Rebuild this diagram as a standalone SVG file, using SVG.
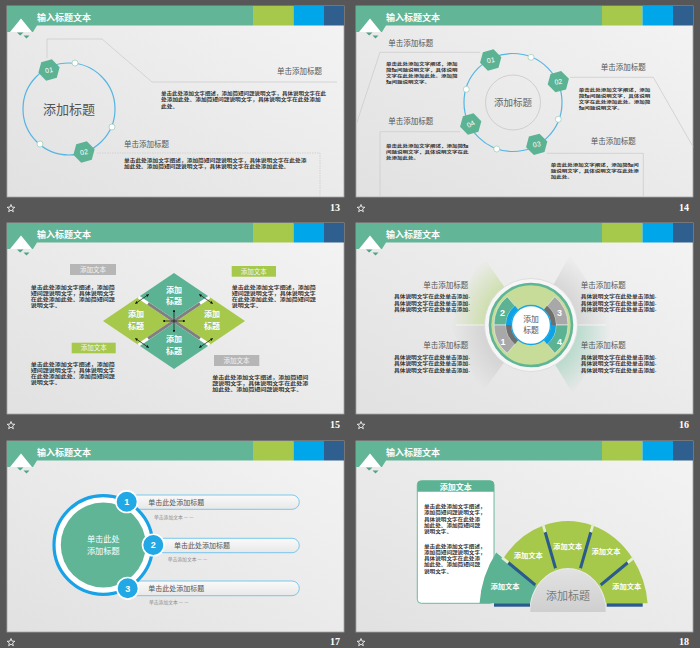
<svg xmlns="http://www.w3.org/2000/svg" width="700" height="648" viewBox="0 0 700 648">
  <style>
    .cn { font-family: "Noto Sans CJK SC", "Noto Sans", sans-serif; }
    .p { font-family: "Noto Sans CJK SC", sans-serif; fill: #333; font-weight: bold; }
    .hd { font-family: "Noto Sans CJK SC", sans-serif; font-size: 7.5px; fill: #555; }
    .ttl { font-family: "Noto Sans CJK SC", sans-serif; font-size: 9px; font-weight: bold; fill: #fff; }
    .pg { font-family: "Liberation Serif", serif; font-weight: bold; font-size: 10px; fill: #fff; text-anchor: end; }
    .ln { fill: none; stroke: #cdcdcd; stroke-width: 0.8; }
    .dot { fill: #fff; stroke: #9fd1be; stroke-width: 0.8; }
    .hexnum { font-family: "Liberation Sans", sans-serif; font-size: 7px; fill: #fff; text-anchor: middle; }
    .wl { font-family: "Noto Sans CJK SC", sans-serif; font-weight: bold; fill: #fff; text-anchor: middle; }
    .star { fill: none; stroke: #fff; stroke-width: 0.8; }
  </style>
  <defs>
    <linearGradient id="bg" x1="1" y1="0" x2="0" y2="1">
      <stop offset="0" stop-color="#f4f4f4"/>
      <stop offset="1" stop-color="#e1e1e1"/>
    </linearGradient>
    <linearGradient id="pill" x1="0" y1="0" x2="0" y2="1">
      <stop offset="0" stop-color="#fafafa"/>
      <stop offset="1" stop-color="#e8e8e8"/>
    </linearGradient>
    <linearGradient id="grayDome" x1="0" y1="0" x2="0" y2="1">
      <stop offset="0" stop-color="#e2e2e2"/>
      <stop offset="1" stop-color="#cfcfcf"/>
    </linearGradient>
    <radialGradient id="rayG" gradientUnits="userSpaceOnUse" cx="175" cy="102" r="80">
      <stop offset="0.45" stop-color="#b7d57c" stop-opacity="0.7"/>
      <stop offset="1" stop-color="#b7d57c" stop-opacity="0"/>
    </radialGradient>
    <radialGradient id="rayT" gradientUnits="userSpaceOnUse" cx="175" cy="102" r="80">
      <stop offset="0.45" stop-color="#8fcdb3" stop-opacity="0.7"/>
      <stop offset="1" stop-color="#8fcdb3" stop-opacity="0"/>
    </radialGradient>
    <radialGradient id="rayK" gradientUnits="userSpaceOnUse" cx="175" cy="102" r="80">
      <stop offset="0.45" stop-color="#bcbcbc" stop-opacity="0.6"/>
      <stop offset="1" stop-color="#bcbcbc" stop-opacity="0"/>
    </radialGradient>
    <marker id="ah" viewBox="0 0 6 6" refX="5" refY="3" markerWidth="4" markerHeight="4" orient="auto-start-reverse">
      <path d="M0,0 L6,3 L0,6 Z" fill="#111"/>
    </marker>
    <clipPath id="fanClip">
      <rect x="-120" y="-120" width="240" height="111.3"/>
    </clipPath>
    <polygon id="hex" points="0,-11 9.53,-5.5 9.53,5.5 0,11 -9.53,5.5 -9.53,-5.5" fill="#5cb394"/>
    <polygon id="star" class="star" points="0,-4 1,-1.38 3.8,-1.24 1.62,0.53 2.35,3.24 0,1.7 -2.35,3.24 -1.62,0.53 -3.8,-1.24 -1,-1.38"/>
    <!-- slide frame: background and title bar -->
    <g id="frame">
      <rect x="0" y="0" width="337" height="191" fill="url(#bg)" stroke="#a5a5a5" stroke-width="0.8"/>
      <path d="M0,0 H246 V19.5 H30 L26,26 H0 Z" fill="#63b597"/>
      <polygon points="3,26 14,12.5 25,26" fill="#fff"/>
      <rect x="246" y="0" width="40.5" height="19.5" fill="#a6c94b"/>
      <rect x="286.5" y="0" width="30.5" height="19.5" fill="#00a6ea"/>
      <rect x="317" y="0" width="20" height="19.5" fill="#2f5f8e"/>
      <polygon points="10,26.5 16.5,26.5 13.2,29.5" fill="#4fa386"/>
      <polygon points="16.5,29.5 22.5,29.5 19.5,32.5" fill="#4fa386"/>
      <text x="30" y="14.5" class="ttl">输入标题文本</text>
    </g>
  </defs>

  <rect x="0" y="0" width="700" height="648" fill="#575757"/>

  <!-- page numbers and slide icons -->
  <g id="footers">
    <use href="#star" x="11" y="208.5"/>
    <use href="#star" x="361" y="208.5"/>
    <use href="#star" x="11" y="425.5"/>
    <use href="#star" x="361" y="425.5"/>
    <use href="#star" x="11" y="642.5"/>
    <use href="#star" x="361" y="642.5"/>
    <text x="340" y="211" class="pg">13</text>
    <text x="689" y="211" class="pg">14</text>
    <text x="340" y="428" class="pg">15</text>
    <text x="689" y="428" class="pg">16</text>
    <text x="340" y="645" class="pg">17</text>
    <text x="689" y="645" class="pg">18</text>
  </g>

  <!-- slide 13 -->
  <g id="slide13" transform="translate(7,6)">
    <use href="#frame"/>
    <g id="s13-lines">
      <polyline class="ln" points="40,52 40,33 95,33 145,76 330,76"/>
      <polyline class="ln" points="90,147 313,147 313,191" stroke-dasharray="1.5 1"/>
    </g>
    <circle cx="62" cy="103" r="46" fill="none" stroke="#55b5e4" stroke-width="1.2"/>
    <circle class="dot" cx="68" cy="57" r="3"/>
    <circle class="dot" cx="105" cy="121" r="3"/>
    <circle class="dot" cx="33" cy="138" r="3"/>
    <g id="s13-n01" transform="translate(42,64) rotate(15)">
      <use href="#hex"/>
      <text y="2.5" class="hexnum" transform="rotate(-25)">01</text>
    </g>
    <g id="s13-n02" transform="translate(77,146) rotate(15)">
      <use href="#hex"/>
      <text y="2.5" class="hexnum" transform="rotate(-25)">02</text>
    </g>
    <text x="62" y="108" class="cn" font-size="13" fill="#555" text-anchor="middle">添加标题</text>
    <text x="315" y="67.5" class="hd" text-anchor="end">单击添加标题</text>
    <g class="p" font-size="4.4">
      <text x="154" y="89" textLength="165" lengthAdjust="spacingAndGlyphs">单击此处添加文字阐述，添加简短问题说明文字，具体说明文字在此</text>
      <text x="154" y="95.4" textLength="159.6" lengthAdjust="spacingAndGlyphs">处添加此处。添加简短问题说明文字，具体说明文字在此处添加</text>
      <text x="154" y="101.8" textLength="17.1" lengthAdjust="spacingAndGlyphs">此处。</text>
    </g>
    <text x="117" y="141" class="hd">单击添加标题</text>
    <g class="p" font-size="4.4">
      <text x="117" y="156" textLength="182.4" lengthAdjust="spacingAndGlyphs">单击此处添加文字阐述，添加简短问题说明文字，具体说明文字在此处添</text>
      <text x="117" y="162.4" textLength="165.3" lengthAdjust="spacingAndGlyphs">加此处。添加简短问题说明文字，具体说明文字在此处添加此处。</text>
    </g>
  </g>

  <!-- slide 14 -->
  <g id="slide14" transform="translate(356,6)">
    <use href="#frame"/>
    <g id="s14-lines">
      <polyline class="ln" points="124,46.3 24,46.3 0.7,117"/>
      <polyline class="ln" points="214,71.3 297.3,71.3 337,140.7"/>
      <polyline class="ln" points="104,125.7 24,125.7 24,190.7"/>
      <polyline class="ln" points="190.7,147.3 287.3,147.3 287.3,190.7"/>
    </g>
    <circle cx="157" cy="96.5" r="49" fill="none" stroke="#55b5e4" stroke-width="1.2"/>
    <circle cx="157" cy="96.5" r="27.5" fill="none" stroke="#cfcfcf" stroke-width="1"/>
    <text x="157" y="100" class="cn" font-size="9.5" fill="#666" text-anchor="middle">添加标题</text>
    <circle class="dot" cx="175" cy="51.3" r="3"/>
    <circle class="dot" cx="110.3" cy="83.3" r="3"/>
    <circle class="dot" cx="202.3" cy="113.3" r="3"/>
    <circle class="dot" cx="140.7" cy="143" r="3"/>
    <g id="s14-n01" transform="translate(134.7,54) rotate(15)">
      <use href="#hex"/><text y="2.5" class="hexnum" transform="rotate(-25)">01</text>
    </g>
    <g id="s14-n02" transform="translate(202.3,75.7) rotate(15)">
      <use href="#hex"/><text y="2.5" class="hexnum" transform="rotate(-25)">02</text>
    </g>
    <g id="s14-n03" transform="translate(180.7,138.3) rotate(15)">
      <use href="#hex"/><text y="2.5" class="hexnum" transform="rotate(-25)">03</text>
    </g>
    <g id="s14-n04" transform="translate(114.7,118) rotate(15)">
      <use href="#hex"/><text y="2.5" class="hexnum" transform="rotate(-45)">04</text>
    </g>
    <text x="32.3" y="40" class="hd">单击添加标题</text>
    <text x="244.7" y="64" class="hd">单击添加标题</text>
    <text x="32.3" y="117.5" class="hd">单击添加标题</text>
    <text x="234.7" y="138.3" class="hd">单击添加标题</text>
    <g class="p" font-size="4.1">
      <text x="30" y="59.5" textLength="71.5" lengthAdjust="spacingAndGlyphs">单击此处添加文字阐述，添加</text>
      <text x="30" y="65.5" textLength="71.5" lengthAdjust="spacingAndGlyphs">简短问题说明文字，具体说明</text>
      <text x="30" y="71.5" textLength="71.5" lengthAdjust="spacingAndGlyphs">文字在此处添加此处。添加简</text>
      <text x="30" y="77.5" textLength="44" lengthAdjust="spacingAndGlyphs">短问题说明文字。</text>
      <text x="222.7" y="86.3" textLength="71.5" lengthAdjust="spacingAndGlyphs">单击此处添加文字阐述，添加</text>
      <text x="222.7" y="92.3" textLength="71.5" lengthAdjust="spacingAndGlyphs">简短问题说明文字，具体说明</text>
      <text x="222.7" y="98.3" textLength="71.5" lengthAdjust="spacingAndGlyphs">文字在此处添加此处。添加简</text>
      <text x="222.7" y="104.3" textLength="44" lengthAdjust="spacingAndGlyphs">短问题说明文字。</text>
      <text x="30" y="141.7" textLength="82.5" lengthAdjust="spacingAndGlyphs">单击此处添加文字阐述，添加简短</text>
      <text x="30" y="147.7" textLength="82.5" lengthAdjust="spacingAndGlyphs">问题说明文字，具体说明文字在此</text>
      <text x="30" y="153.7" textLength="33" lengthAdjust="spacingAndGlyphs">处添加此处。</text>
      <text x="194.7" y="161.3" textLength="88" lengthAdjust="spacingAndGlyphs">单击此处添加文字阐述，添加简短问</text>
      <text x="194.7" y="167.3" textLength="88" lengthAdjust="spacingAndGlyphs">题说明文字，具体说明文字在此处添</text>
      <text x="194.7" y="173.3" textLength="22" lengthAdjust="spacingAndGlyphs">加此处。</text>
    </g>
  </g>

  <!-- slide 15 -->
  <g id="slide15" transform="translate(7,223)">
    <use href="#frame"/>
    <g id="s15-diamonds">
      <polygon points="167,50 202.5,74 167,98 131.5,74" fill="#5cb394"/>
      <polygon points="96,98 131.5,74 167,98 131.5,122" fill="#a6c84b"/>
      <polygon points="238,98 202.5,74 167,98 202.5,122" fill="#a6c84b"/>
      <polygon points="167,146 202.5,122 167,98 131.5,122" fill="#5cb394"/>
      <line x1="131.5" y1="74" x2="202.5" y2="122" stroke="#fff" stroke-width="3.2"/>
      <line x1="202.5" y1="74" x2="131.5" y2="122" stroke="#fff" stroke-width="3.2"/>
      <line x1="141" y1="80.4" x2="193" y2="115.6" stroke="#7f7f7f" stroke-width="3"/>
      <line x1="193" y1="80.4" x2="141" y2="115.6" stroke="#7f7f7f" stroke-width="3"/>
    </g>
    <g id="s15-arrows" stroke="#111" stroke-width="0.7" fill="none">
      <line x1="128.4" y1="80.5" x2="141.6" y2="71.5" marker-start="url(#ah)" marker-end="url(#ah)"/>
      <line x1="192.4" y1="71.5" x2="205.6" y2="80.5" marker-start="url(#ah)" marker-end="url(#ah)"/>
      <line x1="128.4" y1="115.5" x2="141.6" y2="124.5" marker-start="url(#ah)" marker-end="url(#ah)"/>
      <line x1="192.4" y1="124.5" x2="205.6" y2="115.5" marker-start="url(#ah)" marker-end="url(#ah)"/>
      <line x1="167" y1="87" x2="167" y2="109" marker-start="url(#ah)" marker-end="url(#ah)"/>
      <line x1="156" y1="98" x2="178" y2="98" marker-start="url(#ah)" marker-end="url(#ah)"/>
    </g>
    <g font-size="8">
      <text class="wl" x="167" y="69.5">添加</text><text class="wl" x="167" y="81.1">标题</text>
      <text class="wl" x="129" y="94">添加</text><text class="wl" x="129" y="105.6">标题</text>
      <text class="wl" x="205" y="94">添加</text><text class="wl" x="205" y="105.6">标题</text>
      <text class="wl" x="167" y="119">添加</text><text class="wl" x="167" y="130.6">标题</text>
    </g>
    <g id="s15-tags">
      <rect x="63" y="41" width="46" height="11" fill="#b6b6b6"/>
      <text x="86" y="48.6" class="cn" font-size="6.5" fill="#f2f2f2" text-anchor="middle">添加文本</text>
      <rect x="224.7" y="43" width="44.3" height="10.7" fill="#a6c84b"/>
      <text x="246.8" y="50.6" class="cn" font-size="6.5" fill="#f4f4f4" text-anchor="middle">添加文本</text>
      <rect x="64.7" y="119.7" width="44" height="10.6" fill="#a6c84b"/>
      <text x="86.7" y="127.3" class="cn" font-size="6.5" fill="#f4f4f4" text-anchor="middle">添加文本</text>
      <rect x="207" y="132" width="45.3" height="11" fill="#b6b6b6"/>
      <text x="229.6" y="139.7" class="cn" font-size="6.5" fill="#f2f2f2" text-anchor="middle">添加文本</text>
    </g>
    <g class="p" font-size="4.3">
      <text x="23.7" y="65.5" textLength="84" lengthAdjust="spacingAndGlyphs">单击此处添加文字阐述，添加简</text>
      <text x="23.7" y="71.75" textLength="84" lengthAdjust="spacingAndGlyphs">短问题说明文字，具体说明文字</text>
      <text x="23.7" y="78" textLength="84" lengthAdjust="spacingAndGlyphs">在此处添加此处。添加简短问题</text>
      <text x="23.7" y="84.25" textLength="30" lengthAdjust="spacingAndGlyphs">说明文字。</text>
      <text x="224.7" y="65.5" textLength="84" lengthAdjust="spacingAndGlyphs">单击此处添加文字阐述，添加简</text>
      <text x="224.7" y="71.75" textLength="84" lengthAdjust="spacingAndGlyphs">短问题说明文字，具体说明文字</text>
      <text x="224.7" y="78" textLength="84" lengthAdjust="spacingAndGlyphs">在此处添加此处。添加简短问题</text>
      <text x="224.7" y="84.25" textLength="30" lengthAdjust="spacingAndGlyphs">说明文字。</text>
      <text x="23.7" y="142.5" textLength="84" lengthAdjust="spacingAndGlyphs">单击此处添加文字阐述，添加简</text>
      <text x="23.7" y="148.75" textLength="84" lengthAdjust="spacingAndGlyphs">短问题说明文字，具体说明文字</text>
      <text x="23.7" y="155" textLength="84" lengthAdjust="spacingAndGlyphs">在此处添加此处。添加简短问题</text>
      <text x="23.7" y="161.25" textLength="30" lengthAdjust="spacingAndGlyphs">说明文字。</text>
      <text x="205.3" y="155.5" textLength="96" lengthAdjust="spacingAndGlyphs">单击此处添加文字阐述，添加简短问</text>
      <text x="205.3" y="161.75" textLength="96" lengthAdjust="spacingAndGlyphs">题说明文字，具体说明文字在此处添</text>
      <text x="205.3" y="168" textLength="90" lengthAdjust="spacingAndGlyphs">加此处。添加简短问题说明文字。</text>
    </g>
  </g>

  <!-- slide 16 -->
  <g id="slide16" transform="translate(356,223)">
    <use href="#frame"/>
    <g id="s16-rays">
      <polygon points="175,102 94,102 126,32" fill="url(#rayG)"/>
      <polygon points="175,102 214,32 261,102" fill="url(#rayK)"/>
      <polygon points="175,102 94,102 126,170" fill="url(#rayK)"/>
      <polygon points="175,102 261,102 217,171" fill="url(#rayT)"/>
      <line x1="100" y1="102" x2="250" y2="102" stroke="#ffffff" stroke-width="0.8" opacity="0.8"/>
    </g>
    <g id="s16-wheel">
      <circle cx="175" cy="102" r="46.5" fill="#f6f6f6" stroke="#d8d8d8" stroke-width="0.8"/>
      <circle cx="175" cy="102" r="41" fill="#c6dc98" stroke="#5fb596" stroke-width="2.6"/>
      <line x1="135" y1="102" x2="215" y2="102" stroke="#b9d67a" stroke-width="0.8"/>
      <g stroke="#f2f2f2" stroke-width="0.6">
        <path d="M138,102 A37,37 0 0 1 151.22,73.66 L158.93,82.85 A25,25 0 0 0 150,102 Z" fill="#5cb394"/>
        <path d="M198.78,73.66 A37,37 0 0 1 212,102 L200,102 A25,25 0 0 0 191.07,82.85 Z" fill="#a8a8a8"/>
        <path d="M212,102 A37,37 0 0 1 198.78,130.34 L191.07,121.15 A25,25 0 0 0 200,102 Z" fill="#5cb394"/>
        <path d="M151.22,130.34 A37,37 0 0 1 138,102 L150,102 A25,25 0 0 0 158.93,121.15 Z" fill="#a8a8a8"/>
      </g>
      <path d="M150,102 A25,25 0 0 1 158.93,82.85 L162.14,86.68 A20,20 0 0 0 155,102 Z" fill="#0ea3e6"/>
      <path d="M191.07,82.85 A25,25 0 0 1 200,102 L195,102 A20,20 0 0 0 187.86,86.68 Z" fill="#6f6f6f"/>
      <path d="M200,102 A25,25 0 0 1 191.07,121.15 L187.86,117.32 A20,20 0 0 0 195,102 Z" fill="#0ea3e6"/>
      <path d="M158.93,121.15 A25,25 0 0 1 150,102 L155,102 A20,20 0 0 0 162.14,117.32 Z" fill="#6f6f6f"/>
      <circle cx="175" cy="102" r="19.5" fill="#fff" stroke="#19a6e6" stroke-width="1.3"/>
      <text x="175" y="98.5" class="cn" font-size="7.8" fill="#555" text-anchor="middle">添加</text>
      <text x="175" y="109.8" class="cn" font-size="7.8" fill="#555" text-anchor="middle">标题</text>
      <g font-family="Liberation Sans, sans-serif" font-weight="bold" font-size="9" fill="#fff" text-anchor="middle">
        <text x="146.5" y="92.5">2</text>
        <text x="203.5" y="92.5">3</text>
        <text x="147" y="121.5">1</text>
        <text x="203.5" y="121.5">4</text>
      </g>
    </g>
    <text x="112.3" y="65" class="hd" text-anchor="end">单击添加标题</text>
    <text x="224.7" y="65" class="hd">单击添加标题</text>
    <text x="112.3" y="125" class="hd" text-anchor="end">单击添加标题</text>
    <text x="224.7" y="125" class="hd">单击添加标题</text>
    <g class="p" font-size="4.6">
      <text x="114" y="75" text-anchor="end" textLength="76" lengthAdjust="spacingAndGlyphs">具体说明文字在此处单击添加.</text>
      <text x="114" y="81.7" text-anchor="end" textLength="76" lengthAdjust="spacingAndGlyphs">具体说明文字在此处单击添加.</text>
      <text x="114" y="88.4" text-anchor="end" textLength="76" lengthAdjust="spacingAndGlyphs">具体说明文字在此处单击添加.</text>
      <text x="224.7" y="75" textLength="76" lengthAdjust="spacingAndGlyphs">具体说明文字在此处单击添加.</text>
      <text x="224.7" y="81.7" textLength="76" lengthAdjust="spacingAndGlyphs">具体说明文字在此处单击添加.</text>
      <text x="224.7" y="88.4" textLength="76" lengthAdjust="spacingAndGlyphs">具体说明文字在此处单击添加.</text>
      <text x="114" y="135.5" text-anchor="end" textLength="76" lengthAdjust="spacingAndGlyphs">具体说明文字在此处单击添加.</text>
      <text x="114" y="142.2" text-anchor="end" textLength="76" lengthAdjust="spacingAndGlyphs">具体说明文字在此处单击添加.</text>
      <text x="114" y="148.9" text-anchor="end" textLength="76" lengthAdjust="spacingAndGlyphs">具体说明文字在此处单击添加.</text>
      <text x="224.7" y="135.5" textLength="76" lengthAdjust="spacingAndGlyphs">具体说明文字在此处单击添加.</text>
      <text x="224.7" y="142.2" textLength="76" lengthAdjust="spacingAndGlyphs">具体说明文字在此处单击添加.</text>
      <text x="224.7" y="148.9" textLength="76" lengthAdjust="spacingAndGlyphs">具体说明文字在此处单击添加.</text>
    </g>
  </g>

  <!-- slide 17 -->
  <g id="slide17" transform="translate(7,441)">
    <use href="#frame"/>
    <g id="s17-pills" stroke="#6cc3ec" stroke-width="0.9" fill="url(#pill)">
      <rect x="123" y="54" width="169.3" height="14.3" rx="7.2"/>
      <rect x="149.7" y="97.3" width="142.6" height="14.4" rx="7.2"/>
      <rect x="123" y="140" width="169.3" height="14.7" rx="7.3"/>
    </g>
    <g id="s17-hub">
      <circle cx="96.3" cy="104" r="49.3" fill="#fff" stroke="#1aa2e6" stroke-width="3.2"/>
      <circle cx="96.3" cy="104" r="42.5" fill="#60b597"/>
      <text x="96.3" y="100.5" class="cn" font-size="8.2" fill="#fff" text-anchor="middle">单击此处</text>
      <text x="96.3" y="112.5" class="cn" font-size="8.2" fill="#fff" text-anchor="middle">添加标题</text>
    </g>
    <g id="s17-badges" fill="#23a8e6" stroke="#fff" stroke-width="1.6">
      <circle cx="119.7" cy="60.7" r="10.8"/>
      <circle cx="146.3" cy="104" r="10.8"/>
      <circle cx="120.7" cy="147.3" r="10.8"/>
    </g>
    <g font-family="Liberation Sans, sans-serif" font-weight="bold" font-size="9" fill="#fff" text-anchor="middle">
      <text x="119.7" y="64">1</text>
      <text x="146.3" y="107.3">2</text>
      <text x="120.7" y="150.6">3</text>
    </g>
    <g class="cn" font-size="7" fill="#555">
      <text x="141.3" y="64">单击此处添加标题</text>
      <text x="167" y="107.3">单击此处添加标题</text>
      <text x="141.3" y="150.3">单击此处添加标题</text>
    </g>
    <g class="cn" font-size="4.8" fill="#8a8a8a">
      <text x="147" y="77.5">单击添加文本  — —</text>
      <text x="160.7" y="120.3">单击添加文本  — —</text>
      <text x="142" y="163.3">单击添加文本  — —</text>
    </g>
  </g>

  <!-- slide 18 -->
  <g id="slide18" transform="translate(356,441)">
    <use href="#frame"/>
    <g id="s18-box">
      <rect x="61.3" y="39.7" width="76.7" height="122.6" rx="4" fill="#fff" stroke="#5cb394" stroke-width="0.9"/>
      <path d="M61.3,50.7 V43.7 A4,4 0 0 1 65.3,39.7 H134 A4,4 0 0 1 138,43.7 V50.7 Z" fill="#5cb394"/>
      <text x="99.7" y="48.7" class="wl" font-size="8">添加文本</text>
      <g class="p" font-size="4.3">
        <text x="68" y="67" textLength="61.6" lengthAdjust="spacingAndGlyphs">单击此处添加文字阐述，</text>
        <text x="68" y="73.25" textLength="61.6" lengthAdjust="spacingAndGlyphs">添加简短问题说明文字，</text>
        <text x="68" y="79.5" textLength="56" lengthAdjust="spacingAndGlyphs">具体说明文字在此处添</text>
        <text x="68" y="85.75" textLength="56" lengthAdjust="spacingAndGlyphs">加此处。添加简短问题</text>
        <text x="68" y="92" textLength="28" lengthAdjust="spacingAndGlyphs">说明文字。</text>
        <text x="68" y="106.5" textLength="61.6" lengthAdjust="spacingAndGlyphs">单击此处添加文字阐述，</text>
        <text x="68" y="112.75" textLength="61.6" lengthAdjust="spacingAndGlyphs">添加简短问题说明文字，</text>
        <text x="68" y="119" textLength="56" lengthAdjust="spacingAndGlyphs">具体说明文字在此处添</text>
        <text x="68" y="125.25" textLength="56" lengthAdjust="spacingAndGlyphs">加此处。添加简短问题</text>
        <text x="68" y="131.5" textLength="28" lengthAdjust="spacingAndGlyphs">说明文字。</text>
      </g>
    </g>
    <g id="s18-fan" transform="translate(212,171) scale(0.879,1)">
      <g clip-path="url(#fanClip)">
        <path d="M-101,0 A101,101 0 0 1 -81.7,-59.4 L-35.6,-25.9 A44,44 0 0 0 -44,0 Z" fill="#5cb394"/>
        <path d="M-73.6,-53.5 A91,91 0 0 1 -28.1,-86.5 L-13.6,-41.8 A44,44 0 0 0 -35.6,-25.9 Z" fill="#a6c84b"/>
        <path d="M-28.1,-86.5 A91,91 0 0 1 28.1,-86.5 L13.6,-41.8 A44,44 0 0 0 -13.6,-41.8 Z" fill="#a6c84b"/>
        <path d="M28.1,-86.5 A91,91 0 0 1 73.6,-53.5 L35.6,-25.9 A44,44 0 0 0 13.6,-41.8 Z" fill="#a6c84b"/>
        <path d="M73.6,-53.5 A91,91 0 0 1 91,0 L44,0 A44,44 0 0 0 35.6,-25.9 Z" fill="#a6c84b"/>
      </g>
      <g stroke="#2b5b8d" stroke-width="3.4">
        <line x1="-37.2" y1="-27" x2="-68" y2="-49.4"/>
        <line x1="-14.2" y1="-43.7" x2="-26" y2="-79.9"/>
        <line x1="14.2" y1="-43.7" x2="26" y2="-79.9"/>
        <line x1="37.2" y1="-27" x2="68" y2="-49.4"/>
      </g>
      <g stroke="#e4eed6" stroke-width="3">
        <line x1="-68" y1="-49.4" x2="-75" y2="-54.5"/>
        <line x1="-26" y1="-79.9" x2="-28.7" y2="-88.4"/>
        <line x1="26" y1="-79.9" x2="28.7" y2="-88.4"/>
        <line x1="68" y1="-49.4" x2="75" y2="-54.5"/>
      </g>
      <path d="M-43,0 A43,43 0 0 1 43,0 Z" fill="url(#grayDome)"/>
    </g>
    <rect x="138" y="162.3" width="36" height="3.4" fill="#2b5b8d"/>
    <rect x="250.7" y="162.3" width="36" height="3.4" fill="#2b5b8d"/>
    <text x="212" y="158.5" class="cn" font-size="11" fill="#7a7a7a" text-anchor="middle">添加标题</text>
    <g class="wl" font-size="7.3">
      <text x="149" y="147.7">添加文本</text>
      <text x="172.3" y="117.4">添加文本</text>
      <text x="211.7" y="107.7">添加文本</text>
      <text x="250" y="113.4">添加文本</text>
      <text x="270.7" y="147.7">添加文本</text>
    </g>
  </g>
</svg>
